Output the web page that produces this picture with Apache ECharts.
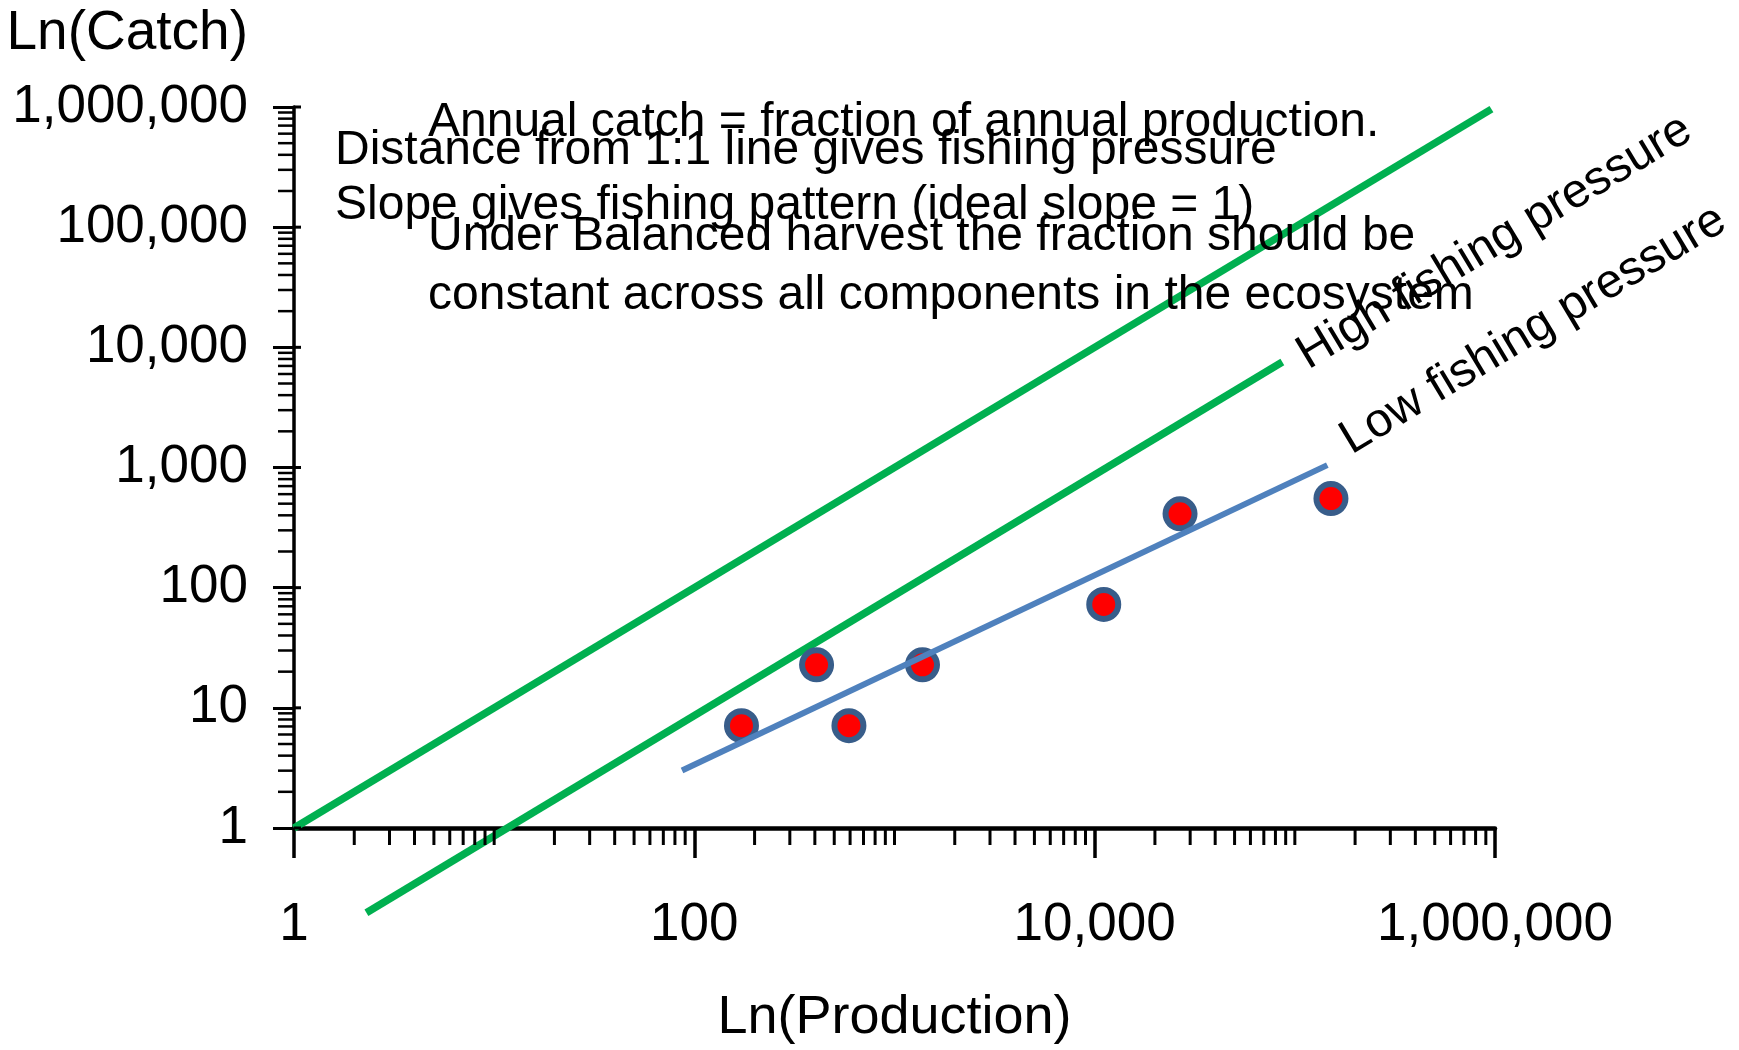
<!DOCTYPE html>
<html>
<head>
<meta charset="utf-8">
<script src="https://cdn.jsdelivr.net/npm/echarts@6/dist/echarts.min.js"></script>
<style>
  html, body { margin: 0; padding: 0; background: #ffffff; }
  #chart { width: 1739px; height: 1050px; }
</style>
</head>
<body>
<div id="chart"></div>
<script>
// Annual production vs annual catch for ecosystem components (log-log)
const production = [172, 408, 592, 1380, 11100, 26700, 151500];
const catchValues = [7.1, 22.8, 7.1, 22.8, 72.5, 412, 551];

// 1:1 line (catch equals production) and a line at a constant lower fraction
const oneToOneLine = [[1, 1], [960000, 960000]];
const fractionLine = [[2.3, 0.197], [86600, 7560]];
// Fitted catch-production relationship
const fitLine = [[86.8, 3.01], [145300, 1047]];

// Tick labels
const xTickLabels = ['1', '100', '10,000', '1,000,000'];
const yTickLabels = ['1', '10', '100', '1,000', '10,000', '100,000', '1,000,000'];

// Decades and in-decade multipliers for the minor ticks
const decades = [1, 10, 100, 1000, 10000, 100000];
const minorMultipliers = [2, 3, 4, 5, 6, 7, 8, 9];

// Texts
const xAxisTitle = 'Ln(Production)';
const yAxisTitle = 'Ln(Catch)';
const noteA1 = 'Annual catch = fraction of annual production.';
const noteA2 = 'Under Balanced harvest the fraction should be';
const noteA3 = 'constant across all components in the ecosystem';
const noteB1 = 'Distance from 1:1 line gives fishing pressure';
const noteB2 = 'Slope gives fishing pattern (ideal slope = 1)';
const pressureLabels = [
  { name: 'High fishing pressure', value: [107800, 8090] },
  { name: 'Low fishing pressure', value: [177300, 1590] }
];

const FONT = "'Liberation Sans', Arial, Helvetica, sans-serif";

// Minor tick positions on both axes
const xMinorTicks = [];
decades.forEach(d => {
  minorMultipliers.forEach(m => xMinorTicks.push(d * m));
  if (Math.round(Math.log10(d)) % 2 === 0) xMinorTicks.push(d * 10);
});
const yMinorTicks = [];
decades.forEach(d => minorMultipliers.forEach(m => yMinorTicks.push(d * m)));
const yMajorTicks = [1, 10, 100, 1000, 10000, 100000, 1000000];

function tickSeries(data, build) {
  return {
    type: 'custom',
    coordinateSystem: 'cartesian2d',
    data: data,
    clip: false,
    silent: true,
    z: 6,
    renderItem: function (params, api) {
      const p = api.coord([api.value(0), api.value(1)]);
      return build(p);
    }
  };
}

const chart = echarts.init(document.getElementById('chart'), null, { renderer: 'canvas' });

function textLine(text, x, baseline) {
  return {
    type: 'text',
    x: x,
    y: baseline - 12.5,
    z: 20,
    silent: true,
    style: {
      text: text,
      fontSize: 48,
      fontFamily: FONT,
      fill: '#000000',
      align: 'left',
      verticalAlign: 'middle'
    }
  };
}

chart.setOption({
  animation: false,
  backgroundColor: '#ffffff',
  grid: {
    left: 294,
    right: 244,
    top: 107,
    bottom: 222,
    containLabel: false,
    outerBoundsMode: 'none'
  },
  xAxis: {
    type: 'log',
    logBase: 100,
    min: 1,
    max: 1000000,
    splitNumber: 3,
    splitLine: { show: false },
    axisLine: { show: true, onZero: false, lineStyle: { color: '#000000', width: 4.5 } },
    axisTick: { show: true, length: 30, lineStyle: { color: '#000000', width: 3.5 } },
    axisLabel: {
      fontSize: 53,
      fontFamily: FONT,
      color: '#000000',
      margin: 71,
      formatter: v => xTickLabels[Math.round(Math.log10(v) / 2)]
    },
    name: xAxisTitle,
    nameLocation: 'middle',
    nameGap: 190,
    nameTextStyle: { fontSize: 54, fontFamily: FONT, color: '#000000', verticalAlign: 'middle' }
  },
  yAxis: {
    type: 'log',
    logBase: 10,
    min: 1,
    max: 1000000,
    splitNumber: 6,
    splitLine: { show: false },
    axisLine: { show: true, onZero: false, lineStyle: { color: '#000000', width: 3.5 } },
    axisTick: { show: true, length: 21, lineStyle: { color: '#000000', width: 3 } },
    axisLabel: {
      fontSize: 53,
      fontFamily: FONT,
      color: '#000000',
      margin: 46,
      formatter: v => yTickLabels[Math.round(Math.log10(v))]
    },
    name: yAxisTitle,
    nameLocation: 'end',
    nameGap: 46,
    nameTextStyle: {
      fontSize: 55,
      fontFamily: FONT,
      color: '#000000',
      align: 'right',
      verticalAlign: 'bottom',
      padding: [0, 46, 0, 0]
    }
  },
  series: [
    {
      type: 'line',
      data: oneToOneLine,
      symbol: 'none',
      clip: false,
      silent: true,
      z: 2,
      lineStyle: { color: '#00B050', width: 7.5, cap: 'butt' }
    },
    {
      type: 'line',
      data: fractionLine,
      symbol: 'none',
      clip: false,
      silent: true,
      z: 2,
      lineStyle: { color: '#00B050', width: 7.5, cap: 'butt' }
    },
    {
      type: 'scatter',
      data: production.map((p, i) => [p, catchValues[i]]),
      symbol: 'circle',
      symbolSize: 29,
      clip: false,
      silent: true,
      z: 3,
      itemStyle: { color: '#FF0000', borderColor: '#385D8A', borderWidth: 6, opacity: 1 }
    },
    {
      type: 'line',
      data: fitLine,
      symbol: 'none',
      clip: false,
      silent: true,
      z: 4,
      lineStyle: { color: '#4F81BD', width: 6, cap: 'butt' }
    },
    {
      type: 'scatter',
      data: pressureLabels,
      symbolSize: 1,
      clip: false,
      silent: true,
      z: 8,
      itemStyle: { color: 'rgba(0,0,0,0)', opacity: 1 },
      label: {
        show: true,
        formatter: '{b}',
        position: 'inside',
        align: 'left',
        verticalAlign: 'middle',
        rotate: 31,
        fontSize: 48,
        fontFamily: FONT,
        color: '#000000',
        opacity: 1,
        textBorderWidth: 0,
        textShadowBlur: 0
      }
    },
    tickSeries(xMinorTicks.map(v => [v, 1]), p => ({
      type: 'line',
      shape: { x1: p[0], y1: p[1], x2: p[0], y2: p[1] + 17 },
      style: { stroke: '#000000', lineWidth: 3 }
    })),
    tickSeries(yMinorTicks.map(v => [1, v]), p => ({
      type: 'line',
      shape: { x1: p[0], y1: p[1], x2: p[0] - 16, y2: p[1] },
      style: { stroke: '#000000', lineWidth: 2.5 }
    })),
    tickSeries(yMajorTicks.map(v => [1, v]), p => ({
      type: 'line',
      shape: { x1: p[0], y1: p[1], x2: p[0] + 7, y2: p[1] },
      style: { stroke: '#000000', lineWidth: 3 }
    }))
  ],
  graphic: [
    textLine(noteA1, 428, 135),
    textLine(noteB1, 335, 163),
    textLine(noteB2, 335, 218),
    textLine(noteA2, 428, 249),
    textLine(noteA3, 428, 308)
  ]
});
</script>
</body>
</html>
